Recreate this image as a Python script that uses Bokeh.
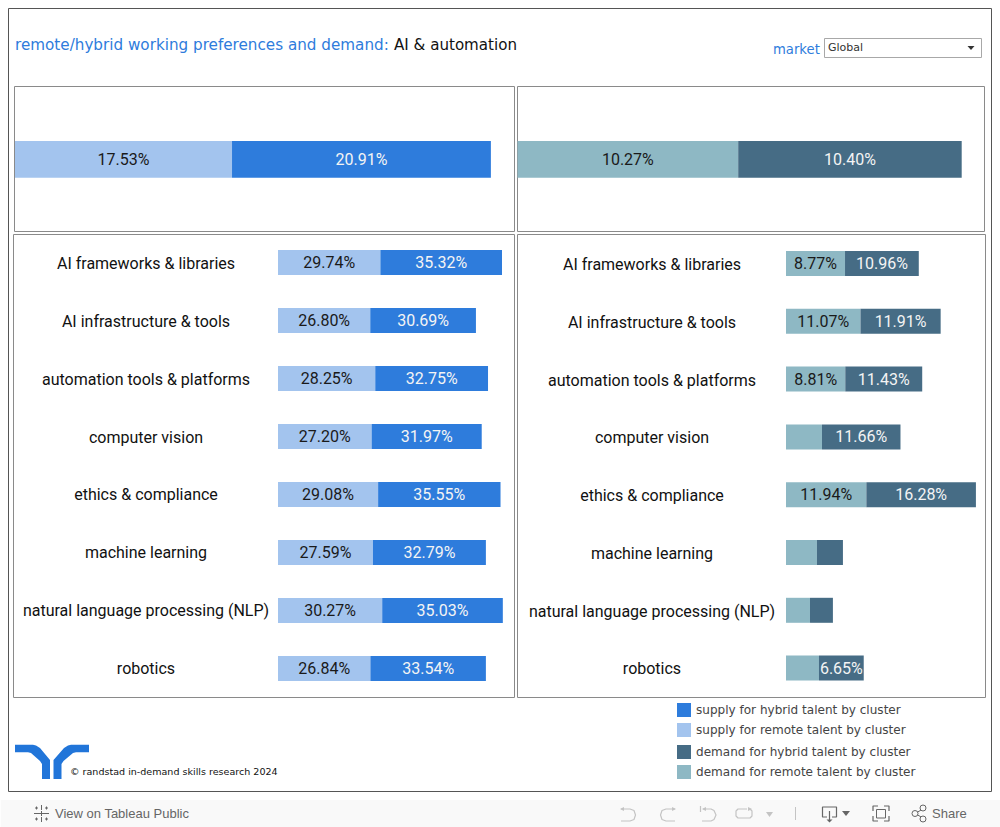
from bokeh.plotting import figure
from bokeh.models import Range1d
from bokeh.core.properties import value
from bokeh.embed import file_html
from bokeh.resources import INLINE

# ---------- data ----------
clusters = ["AI frameworks & libraries", "AI infrastructure & tools", "automation tools & platforms",
            "computer vision", "ethics & compliance", "machine learning",
            "natural language processing (NLP)", "robotics"]
supply_remote = [29.74, 26.80, 28.25, 27.20, 29.08, 27.59, 30.27, 26.84]
supply_hybrid = [35.32, 30.69, 32.75, 31.97, 35.55, 32.79, 35.03, 33.54]
demand_remote = [8.77, 11.07, 8.81, 5.35, 11.94, 4.6, 3.57, 4.9]
demand_hybrid = [10.96, 11.91, 11.43, 11.66, 16.28, 3.86, 3.4, 6.65]
total_supply_remote = [17.53]
total_supply_hybrid = [20.91]
total_demand_remote = [10.27]
total_demand_hybrid = [10.40]
legend_labels = ["supply for hybrid talent by cluster", "supply for remote talent by cluster",
                 "demand for hybrid talent by cluster", "demand for remote talent by cluster"]

C_SH, C_SR, C_DH, C_DR = "#2e7cdc", "#a3c4ee", "#466c85", "#8eb8c4"
BLUE = "#2e7cdc"
W, H = 1000, 827
ORG_X, ORG_Y = 0.5, 0.5

p = figure(width=W, height=H, output_backend="svg", toolbar_location=None,
           x_range=Range1d(ORG_X, ORG_X + W), y_range=Range1d(ORG_Y + H, ORG_Y),
           x_axis_type=None, y_axis_type=None, min_border=0, outline_line_color=None,
           background_fill_color="white", border_fill_color="white")
p.grid.visible = False


def xr(name, x0, ppu):
    p.extra_x_ranges[name] = Range1d((ORG_X - x0) / ppu, (ORG_X + W - x0) / ppu)


def yr(name, c0, step):
    p.extra_y_ranges[name] = Range1d((ORG_Y + H - c0) / step, (ORG_Y - c0) / step)


def txt(x, y, s, size, color, font="DejaVu Sans", align="left", **kw):
    p.text([x], [y], text=[s], text_font=value(font), text_font_size=f"{size}px", text_color=color,
           text_align=align, text_baseline="middle", **kw)


def bars(xn, yn, ys, rem, hyb, crem, chyb, height, fmt_min=6):
    right2 = [a + b for a, b in zip(rem, hyb)]
    p.hbar(y=ys, left=[0] * len(rem), right=rem, height=height, color=crem, line_color=None,
           x_range_name=xn, y_range_name=yn)
    p.hbar(y=ys, left=rem, right=right2, height=height, color=chyb, line_color=None,
           x_range_name=xn, y_range_name=yn)
    for i, y in enumerate(ys):
        if rem[i] >= fmt_min:
            p.text([rem[i] / 2], [y], text=[f"{rem[i]:.2f}%"], text_font=value("Roboto"),
                   text_font_size="16px", text_color="#1a1a1a", text_align="center",
                   text_baseline="middle", x_range_name=xn, y_range_name=yn)
        if hyb[i] >= fmt_min:
            p.text([rem[i] + hyb[i] / 2], [y], text=[f"{hyb[i]:.2f}%"], text_font=value("Roboto"),
                   text_font_size="16px", text_color="#f4f4f4", text_align="center",
                   text_baseline="middle", x_range_name=xn, y_range_name=yn)


# toolbar strip
p.quad(left=[ORG_X], right=[ORG_X + W], top=[800], bottom=[ORG_Y + H], color="#f9f9f9", line_color=None)

# dashboard & panel borders
p.quad(left=[8.5], right=[991.5], top=[8.5], bottom=[791.5], fill_color=None, line_color="#555555", line_width=1)
for l, r, t, b in [(14.5, 514.5, 86.5, 231.5), (517.5, 984.5, 86.5, 231.5),
                   (13.5, 514.5, 234.5, 697.5), (517.5, 985.5, 234.5, 697.5)]:
    p.quad(left=[l], right=[r], top=[t], bottom=[b], fill_color=None, line_color="#8a8a8a", line_width=1)

# scales
xr("tl", 15, 12.38)
xr("tr", 517.5, 21.49)
xr("bl", 278, 3.443)
xr("br", 786, 6.73)
yr("top", 159.4, 1)
yr("bl", 262.5, 58)
yr("br", 263.5, 57.8)
yr("blt", 263.5, 57.85)
yr("brt", 264.5, 57.75)

# bars
bars("tl", "top", [0], total_supply_remote, total_supply_hybrid, C_SR, C_SH, 36.7)
bars("tr", "top", [0], total_demand_remote, total_demand_hybrid, C_DR, C_DH, 36.7)
idx = list(range(len(clusters)))
bars("bl", "bl", idx, supply_remote, supply_hybrid, C_SR, C_SH, 25 / 58)
bars("br", "br", idx, demand_remote, demand_hybrid, C_DR, C_DH, 25 / 57.8)

# category labels
for i, c in enumerate(clusters):
    p.text([146], [i], text=[c], text_font=value("Roboto"), text_font_size="16px", text_color="#111111",
           text_align="center", text_baseline="middle", y_range_name="blt")
    p.text([652], [i], text=[c], text_font=value("Roboto"), text_font_size="16px", text_color="#111111",
           text_align="center", text_baseline="middle", y_range_name="brt")

# title
txt(15, 45, "remote/hybrid working preferences and demand:", 15.2, BLUE)
txt(394, 45, "AI & automation", 15.1, "#111111")

# market filter
txt(773, 49, "market", 13.2, BLUE)
p.quad(left=[824.5], right=[981.5], top=[38.5], bottom=[57.5], fill_color="white", line_color="#a8a8a8", line_width=1)
txt(828, 47.5, "Global", 11, "#333333")
p.patch([967.5, 974.5, 971], [46, 46, 50], color="#333333", line_color=None)

# legend
for y, col, lab in zip([710, 730, 752, 772], [C_SH, C_SR, C_DH, C_DR], legend_labels):
    p.quad(left=[677], right=[691], top=[y - 7], bottom=[y + 7], color=col, line_color=None)
    txt(696, y - 0.5, lab, 12.06, "#444444")

# logo
LOGO = "#2175d9"
p.patch([15, 33, 36, 40, 50, 50, 42, 42, 40, 31, 28, 15],
        [744.7, 744.7, 745.5, 748, 760, 779, 779, 764, 761, 753, 752.3, 752.3], color=LOGO, line_color=None)
p.patch([89, 71, 68, 64, 53.5, 53.5, 61.5, 61.5, 63.5, 73, 76, 89],
        [744.7, 744.7, 745.5, 748, 760, 779, 779, 764, 761, 753, 752.3, 752.3], color=LOGO, line_color=None)
txt(70, 771, "© randstad in-demand skills research 2024", 9.55, "#111111")

# embed toolbar
GR = "#666666"
txt(55, 813.5, "View on Tableau Public", 13, GR, font="Liberation Sans")
txt(932, 813.5, "Share", 13, GR, font="Liberation Sans")
star = [([41.5, 41.5], [805, 810]), ([41.5, 41.5], [817, 822]), ([34, 39], [813.5, 813.5]),
        ([44, 49], [813.5, 813.5]), ([41.5, 41.5], [811, 816]), ([39, 44], [813.5, 813.5]),
        ([35, 38], [808, 808]), ([36.5, 36.5], [806.5, 809.5]), ([45, 48], [808, 808]), ([46.5, 46.5], [806.5, 809.5]),
        ([35, 38], [819, 819]), ([36.5, 36.5], [817.5, 820.5]), ([45, 48], [819, 819]), ([46.5, 46.5], [817.5, 820.5])]
p.multi_line([s[0] for s in star], [s[1] for s in star], line_color=GR, line_width=1)
ICON = "#c4c4c4"
p.line([621, 630, 634, 635.5, 634, 630, 621], [809, 809, 810.5, 815, 819.5, 821, 821], line_color=ICON, line_width=1.2)
p.patch([620, 624, 624], [809, 807, 811], color=ICON, line_color=None)
p.line([675, 666, 662, 660.5, 662, 666, 675], [809, 809, 810.5, 815, 819.5, 821, 821], line_color=ICON, line_width=1.2)
p.patch([676, 672, 672], [809, 807, 811], color=ICON, line_color=None)
p.line([703, 711, 714, 716, 714, 711, 702], [809, 809, 810.5, 815, 819.5, 821, 821], line_color=ICON, line_width=1.2)
p.line([700.5, 700.5], [806, 812], line_color=ICON, line_width=1.2)
p.patch([702, 706, 706], [809, 807, 811], color=ICON, line_color=None)
p.line([747, 738, 736, 736, 738, 750, 752, 752, 750], [809, 809, 811, 816, 818, 818, 816, 811, 809], line_color=ICON, line_width=1.2)
p.patch([752, 748, 748], [809, 807, 811], color=ICON, line_color=None)
p.patch([766, 773, 769.5], [812, 812, 817], color=ICON, line_color=None)
p.line([795.5, 795.5], [807, 820], line_color=ICON, line_width=1)
DK = "#666666"
p.line([827, 822.5, 822.5, 836.5, 836.5, 832], [817, 817, 807, 807, 817, 817], line_color=DK, line_width=1.2)
p.line([829.5, 829.5], [811, 821], line_color=DK, line_width=1.2)
p.patch([826.5, 832.5, 829.5], [819.5, 819.5, 822.5], color=DK, line_color=None)
p.patch([842, 850, 846], [811, 811, 816], color=DK, line_color=None)
for xs, ys in [([873, 873, 878], [811, 806, 806]), ([884, 889, 889], [806, 806, 811]),
               ([873, 873, 878], [816, 821, 821]), ([884, 889, 889], [821, 821, 816])]:
    p.line(xs, ys, line_color=DK, line_width=1.2)
p.quad(left=[876.5], right=[885.5], top=[809.5], bottom=[818], fill_color=None, line_color=DK, line_width=1)
p.multi_line([[915, 923], [915, 923]], [[813.5, 809], [813.5, 818]], line_color=DK, line_width=1)
p.scatter([915, 923, 923], [813.5, 808, 819], size=6, marker="circle", fill_color="#f9f9f9", line_color=DK)

open("out.html", "w").write(file_html(p, INLINE))
